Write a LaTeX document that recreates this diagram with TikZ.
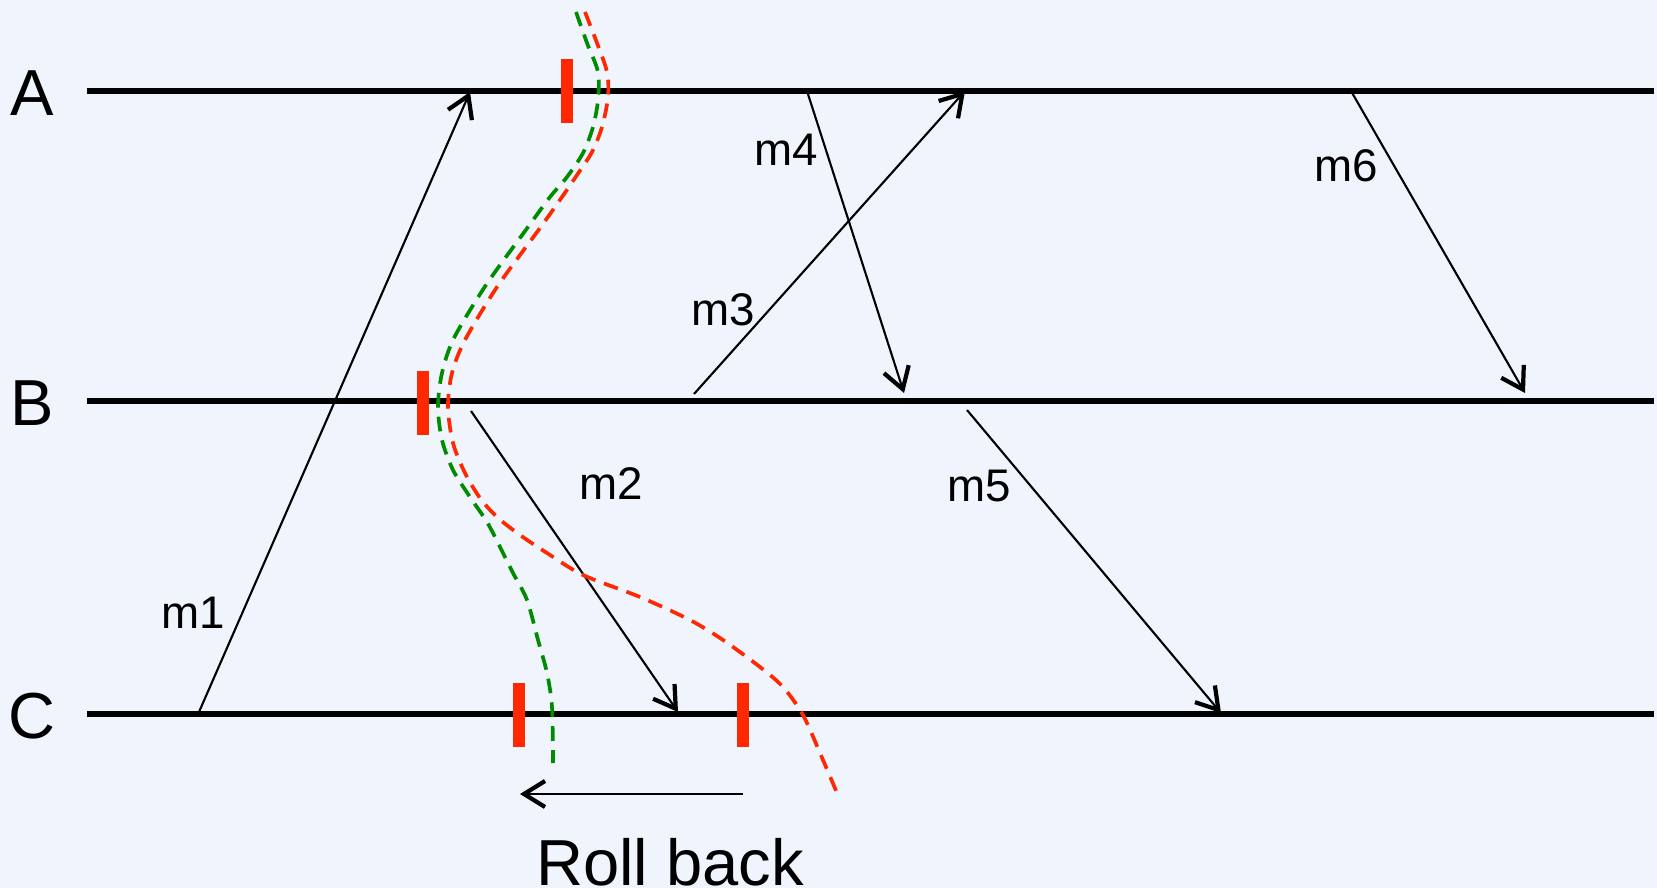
\documentclass[tikz,border=0pt]{standalone}
\usepackage{fontspec}
\setmainfont{Liberation Sans}
\usetikzlibrary{arrows.meta,positioning,calc}
\definecolor{bgc}{RGB}{240,245,253}
\definecolor{CutRed}{RGB}{255,40,0}
\definecolor{CutGreen}{RGB}{0,140,0}
\tikzset{
  proc/.style={font=\fontsize{18.5}{20}\selectfont,inner sep=0pt},
  msglab/.style={font=\fontsize{13}{15}\selectfont,inner sep=0pt},
  tline/.style={line width=1.45pt,black},
  msg/.style={-{Straight Barb[length=2.1mm,width=2.6mm,line width=1.2pt]},line width=0.6pt},
  ckpt/.style={draw=none,fill=CutRed,minimum width=3.4pt,minimum height=18.2pt,inner sep=0pt},
  cut/.style={dash pattern=on 4.2pt off 2.6pt,line width=1.05pt},
}

\begin{document}
\begin{tikzpicture}[x=0.01cm,y=-0.01cm]
  \fill[bgc] (0,0) rectangle (1657,888);
  \useasboundingbox (0,0) rectangle (1657,888);
  % processes
  \foreach \p/\y in {A/93,B/403,C/716}{
    \node[proc] (\p) at (32,\y) {\p};
    \draw[tline] (87,\y-2) coordinate (\p s) -- (1654,\y-2) coordinate (\p e);
  }
  % checkpoints
  \node[ckpt] (ckA)  at (567,91)  {};
  \node[ckpt] (ckB)  at (423,403) {};
  \node[ckpt] (ckC1) at (519,715) {};
  \node[ckpt] (ckC2) at (743,715) {};
  % messages
  \coordinate (m1s) at (199,712); \coordinate (m1e) at (470,92);
  \coordinate (m2s) at (471,411); \coordinate (m2e) at (678,712);
  \coordinate (m3s) at (694,394); \coordinate (m3e) at (965,91);
  \coordinate (m4s) at (807,91);  \coordinate (m4e) at (904,393);
  \coordinate (m5s) at (967,410); \coordinate (m5e) at (1221,713);
  \coordinate (m6s) at (1351,91); \coordinate (m6e) at (1525,393);
  \foreach \m in {m1,m2,m3,m4,m5,m6}
    \draw[msg] (\m s) -- (\m e);
  \node[msglab] (l1) at (193,613) {m1};
  \node[msglab] (l2) at (611,484) {m2};
  \node[msglab] (l3) at (723,310) {m3};
  \node[msglab] (l4) at (786,150) {m4};
  \node[msglab] (l5) at (979,486) {m5};
  \node[msglab] (l6) at (1346,166) {m6};
  % cuts
  \draw[cut,CutGreen] plot[smooth] coordinates {(576,12) (587,43) (598,72) (598,100)
    (593,127) (583,153) (567,177) (550,197) (528,227) (486,285) (454,338) (442,373)
    (438,407) (442,440) (453,470) (470,497) (487,522) (500,547) (513,573) (527,600)
    (538,640) (547,673) (552,707) (553,763)};
  \draw[cut,CutRed] plot[smooth] coordinates {(585,12) (597,43) (607,72) (608,97)
    (602,127) (592,152) (577,175) (562,197) (540,228) (497,287) (465,340) (452,373)
    (448,407) (453,443) (465,473) (480,498) (497,517) (520,535) (547,553) (583,575)
    (640,597) (690,620) (723,640) (760,667) (783,687) (803,715) (820,753) (837,793)};
  % roll back
  \coordinate (rbs) at (743,794);
  \coordinate (rbe) at (520,794);
  \draw[msg] (rbs) -- (rbe);
  \node[proc] (rb) at (670,862) {Roll back};
\end{tikzpicture}
\end{document}
